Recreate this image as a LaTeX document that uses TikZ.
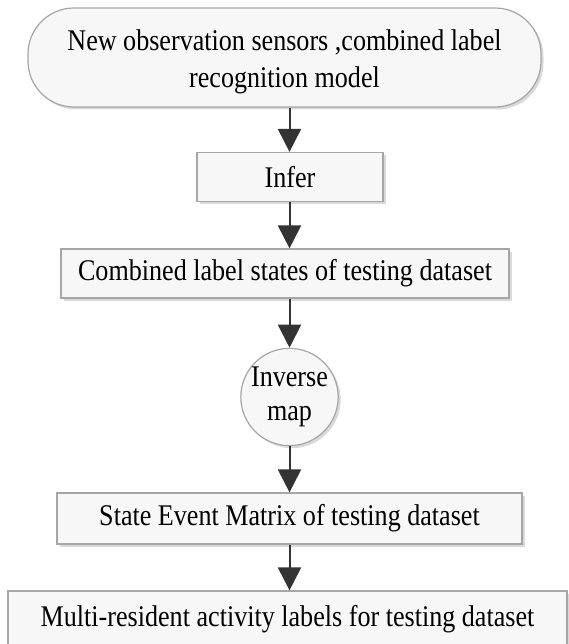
\documentclass[tikz,border=0pt]{standalone}
\usepackage{fontspec}
\setmainfont{Liberation Serif}[FakeStretch=0.87]
\usetikzlibrary{arrows.meta,shadows}
\definecolor{arr}{HTML}{333333}
\begin{document}
\begin{tikzpicture}[x=1pt,y=-1pt,
  every node/.style={font=\fontsize{30}{37}\selectfont, inner sep=0pt},
  box/.style={draw=gray!70, line width=1.2pt, fill=gray!6,
    drop shadow={shadow xshift=2.5pt, shadow yshift=-2.5pt, opacity=0.3}},
  flow/.style={line width=2pt, draw=arr, -{Triangle[length=23pt,width=23pt]}}]
\useasboundingbox (0,0) rectangle (569,644);
\node[box, rounded corners=46pt, minimum width=513pt, minimum height=99pt,
  label={[align=center, yshift=-4pt]center:{New observation sensors ,combined label\\recognition model}}] (start) at (284.5,57.5) {};
\node[box, minimum width=186pt, minimum height=49pt] (infer) at (290,177) {Infer};
\node[box, minimum width=448pt, minimum height=49pt] (comb) at (285,273.5) {Combined label states of testing dataset};
\node[box, circle, minimum size=95pt, align=center, font=\fontsize{30}{34}\selectfont] (inv) at (289.5,397) {Inverse\\map};
\node[box, minimum width=465pt, minimum height=51pt] (sem) at (289.5,518.5) {State Event Matrix of testing dataset};
\node[box, minimum width=559pt, minimum height=56pt] (multi) at (287.5,619) {Multi-resident activity labels for testing dataset};
\draw[flow] (start.south -| inv.center) -- (infer.north -| inv.center);
\draw[flow] (infer.south -| inv.center) -- (comb.north -| inv.center);
\draw[flow] (comb.south -| inv.center) -- (inv.north);
\draw[flow] (inv.south) -- (sem.north -| inv.center);
\draw[flow] (sem.south -| inv.center) -- (multi.north -| inv.center);
\end{tikzpicture}
\end{document}
